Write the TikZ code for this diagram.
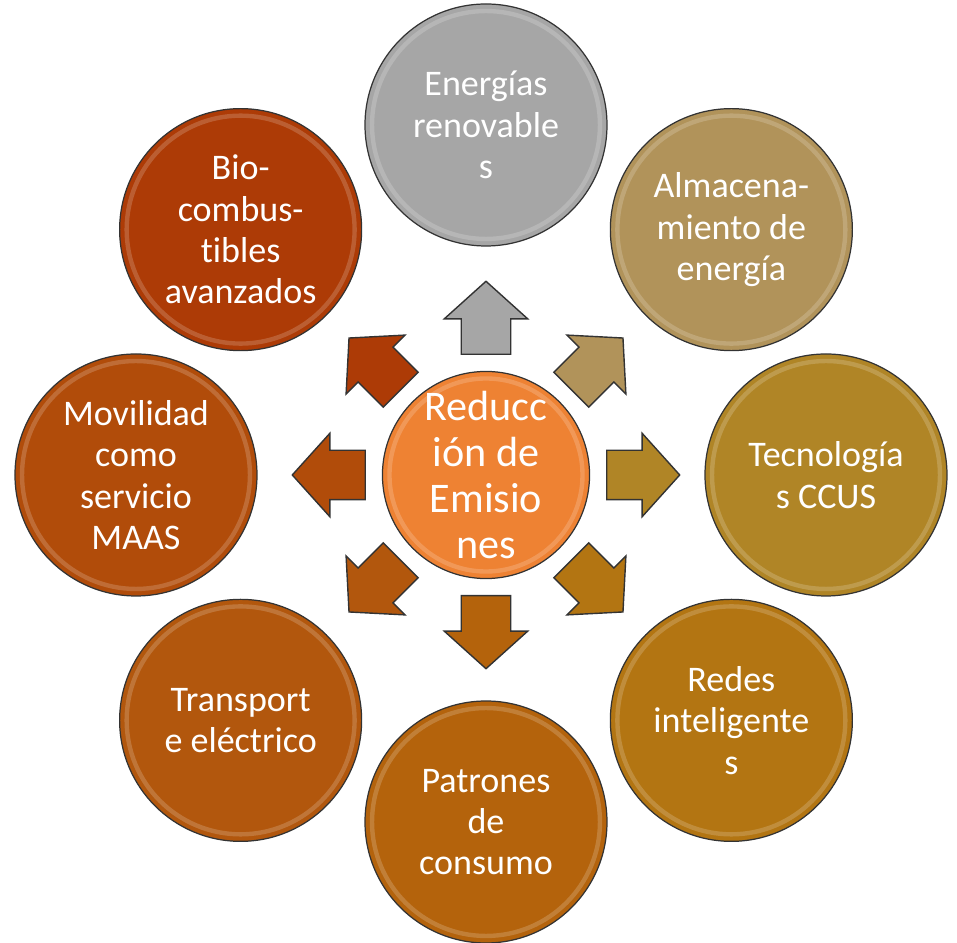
\documentclass[tikz,border=0pt]{standalone}
\usepackage{fontspec}
\setmainfont{Carlito}[Ligatures=NoCommon]
\usetikzlibrary{positioning, shapes.arrows, calc}
\definecolor{gris}{HTML}{A6A6A6}
\definecolor{arena}{HTML}{B1935A}
\definecolor{ocre}{HTML}{B08526}
\definecolor{mostaza}{HTML}{B37512}
\definecolor{canela}{HTML}{B4630C}
\definecolor{cobre}{HTML}{B2570D}
\definecolor{oxido}{HTML}{B14C0A}
\definecolor{ladrillo}{HTML}{AD3B06}
\definecolor{naranja}{HTML}{EE8233}
\tikzstyle{goal} = [circle, draw=black!80, line width=0.7pt, minimum size=4.84cm, inner sep=0pt,
text=white, align=center, font=\fontsize{20.5}{23.5}\selectfont,
path picture={\draw[white, opacity=0.18, line width=2.5pt] let \p1=(path picture bounding box.east), \p2=(path picture bounding box.center) in (\p2) circle ({\x1-\x2-4pt});}]
\tikzstyle{push} = [single arrow, draw=black!80, line width=0.8pt, minimum height=1.46cm,
inner ysep=0.48cm, inner xsep=0pt, single arrow head extend=0.34cm, single arrow tip angle=96, anchor=tail]

\begin{document}
\begin{tikzpicture}
        \useasboundingbox (-9.72,-9.36) rectangle (9.42,9.5);
        % arrows from the centre
        \node (upA) [push, fill=gris, rotate=90] at (90:2.4cm) {};
        \node (urA) [push, fill=arena, rotate=45] at (45:2.4cm) {};
        \node (rA) [push, fill=ocre, rotate=0] at (0:2.4cm) {};
        \node (drA) [push, fill=mostaza, rotate=-45] at (-45:2.4cm) {};
        \node (dA) [push, fill=canela, rotate=-90] at (-90:2.4cm) {};
        \node (dlA) [push, fill=cobre, rotate=-135] at (-135:2.4cm) {};
        \node (lA) [push, fill=oxido, rotate=180] at (180:2.4cm) {};
        \node (ulA) [push, fill=ladrillo, rotate=135] at (135:2.4cm) {};

        \node (Centro) [goal, fill=naranja, minimum size=3.84cm, font=\fontsize{24}{26}\selectfont] at (0,0) {Reducc\\ión de\\Emisio\\nes};

        \node (Renov) [goal, fill=gris] at (90:7cm) {Energías\\renovable\\s};
        \node (Almac) [goal, fill=arena] at (45:6.94cm) {Almacena-\\miento de\\energía};
        \node (CCUS) [goal, fill=ocre] at (0:6.8cm) {Tecnología\\s CCUS};
        \node (Redes) [goal, fill=mostaza] at (-45:6.94cm) {Redes\\inteligente\\s};
        \node (Patron) [goal, fill=canela] at (-90:6.94cm) {Patrones\\de\\consumo};
        \node (Transp) [goal, fill=cobre] at (-135:6.94cm) {Transport\\e eléctrico};
        \node (Movil) [goal, fill=oxido] at (180:7cm) {Movilidad\\como\\servicio\\MAAS};
        \node (Bio) [goal, fill=ladrillo] at (135:6.94cm) {Bio-\\combus-\\tibles\\avanzados};
\end{tikzpicture}
\end{document}
